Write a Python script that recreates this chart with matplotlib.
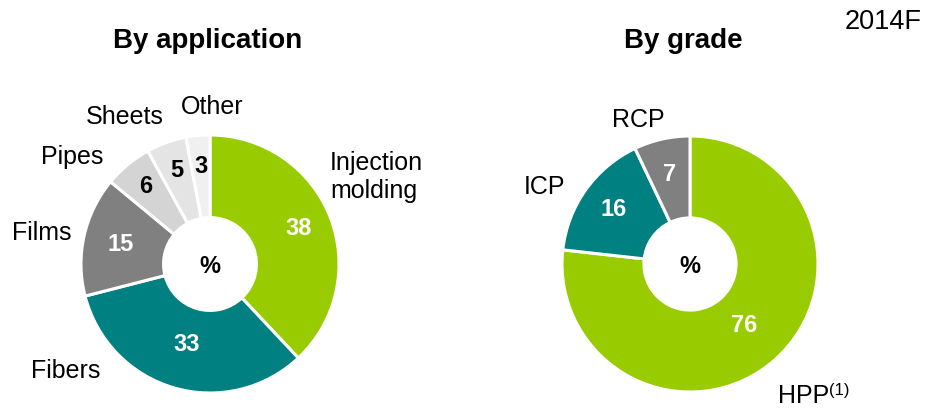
import numpy as np
import matplotlib
matplotlib.use("Agg")
import matplotlib.pyplot as plt

plt.rcParams["font.family"] = ["Liberation Sans", "DejaVu Sans"]

# data (2014F, %)
app_labels = ["Injection\nmolding", "Fibers", "Films", "Pipes", "Sheets", "Other"]
app_values = [38, 33, 15, 6, 5, 3]
grade_labels = ["HPP", "ICP", "RCP"]
grade_values = [76, 16, 7]

app_colors = ["#99CC00", "#008080", "#808080", "#D4D4D4", "#E4E4E4", "#F0F0F0"]
grade_colors = ["#99CC00", "#008080", "#808080"]
app_txt = ["white", "white", "white", "black", "black", "black"]
grade_txt = ["white", "white", "white"]
app_dist = [0.74, 0.65, 0.71, 0.78, 0.77, 0.76]
grade_dist = [0.64, 0.73, 0.72]

W, H = 928, 409
fig = plt.figure(figsize=(W / 100, H / 100), dpi=100)


def px(x, y):
    return x / W, 1 - y / H


def donut(cx, cy, r, values, colors, txt_colors, dists):
    lim = 1.05
    ax = fig.add_axes([(cx - r * lim) / W, (H - cy - r * lim) / H,
                       2 * r * lim / W, 2 * r * lim / H])
    wedges, _ = ax.pie(values, colors=colors, startangle=90, counterclock=False,
                       radius=1, wedgeprops=dict(width=0.64, edgecolor="white",
                                                 linewidth=2.2))
    ax.set_xlim(-lim, lim)
    ax.set_ylim(-lim, lim)
    ax.set_aspect("equal")
    ax.axis("off")
    for w, v, c, d in zip(wedges, values, txt_colors, dists):
        a = np.deg2rad((w.theta1 + w.theta2) / 2)
        ax.text(d * np.cos(a), d * np.sin(a), str(v), ha="center", va="center",
                color=c, fontsize=17, fontweight="bold")
    ax.text(0, -0.02, "%", ha="center", va="center", fontsize=17,
            fontweight="bold")
    return ax


donut(210, 264, 129, app_values, app_colors, app_txt, app_dist)
donut(690, 264, 128, grade_values, grade_colors, grade_txt, grade_dist)

fig.text(*px(208, 41), "By application", ha="center", va="center",
         fontsize=20, fontweight="bold")
fig.text(*px(683, 41), "By grade", ha="center", va="center",
         fontsize=20, fontweight="bold")
fig.text(*px(922, 22), "2014F", ha="right", va="center", fontsize=19.5)

lab = dict(fontsize=18, va="center")
fig.text(*px(330, 177), app_labels[0], ha="left", linespacing=1.25, **lab)
fig.text(*px(66, 371), app_labels[1], ha="center", **lab)
fig.text(*px(42, 233), app_labels[2], ha="center", **lab)
fig.text(*px(72, 157), app_labels[3], ha="center", **lab)
fig.text(*px(125, 117), app_labels[4], ha="center", **lab)
fig.text(*px(212, 107), app_labels[5], ha="center", **lab)

fig.text(*px(545, 187), grade_labels[1], ha="center", **lab)
fig.text(*px(638, 120), grade_labels[2], ha="center", **lab)
fig.text(*px(778, 396), grade_labels[0], ha="left", **lab)
fig.text(*px(829, 390), "(1)", ha="left", fontsize=12, va="center")

fig.savefig("out.png", dpi=100)
